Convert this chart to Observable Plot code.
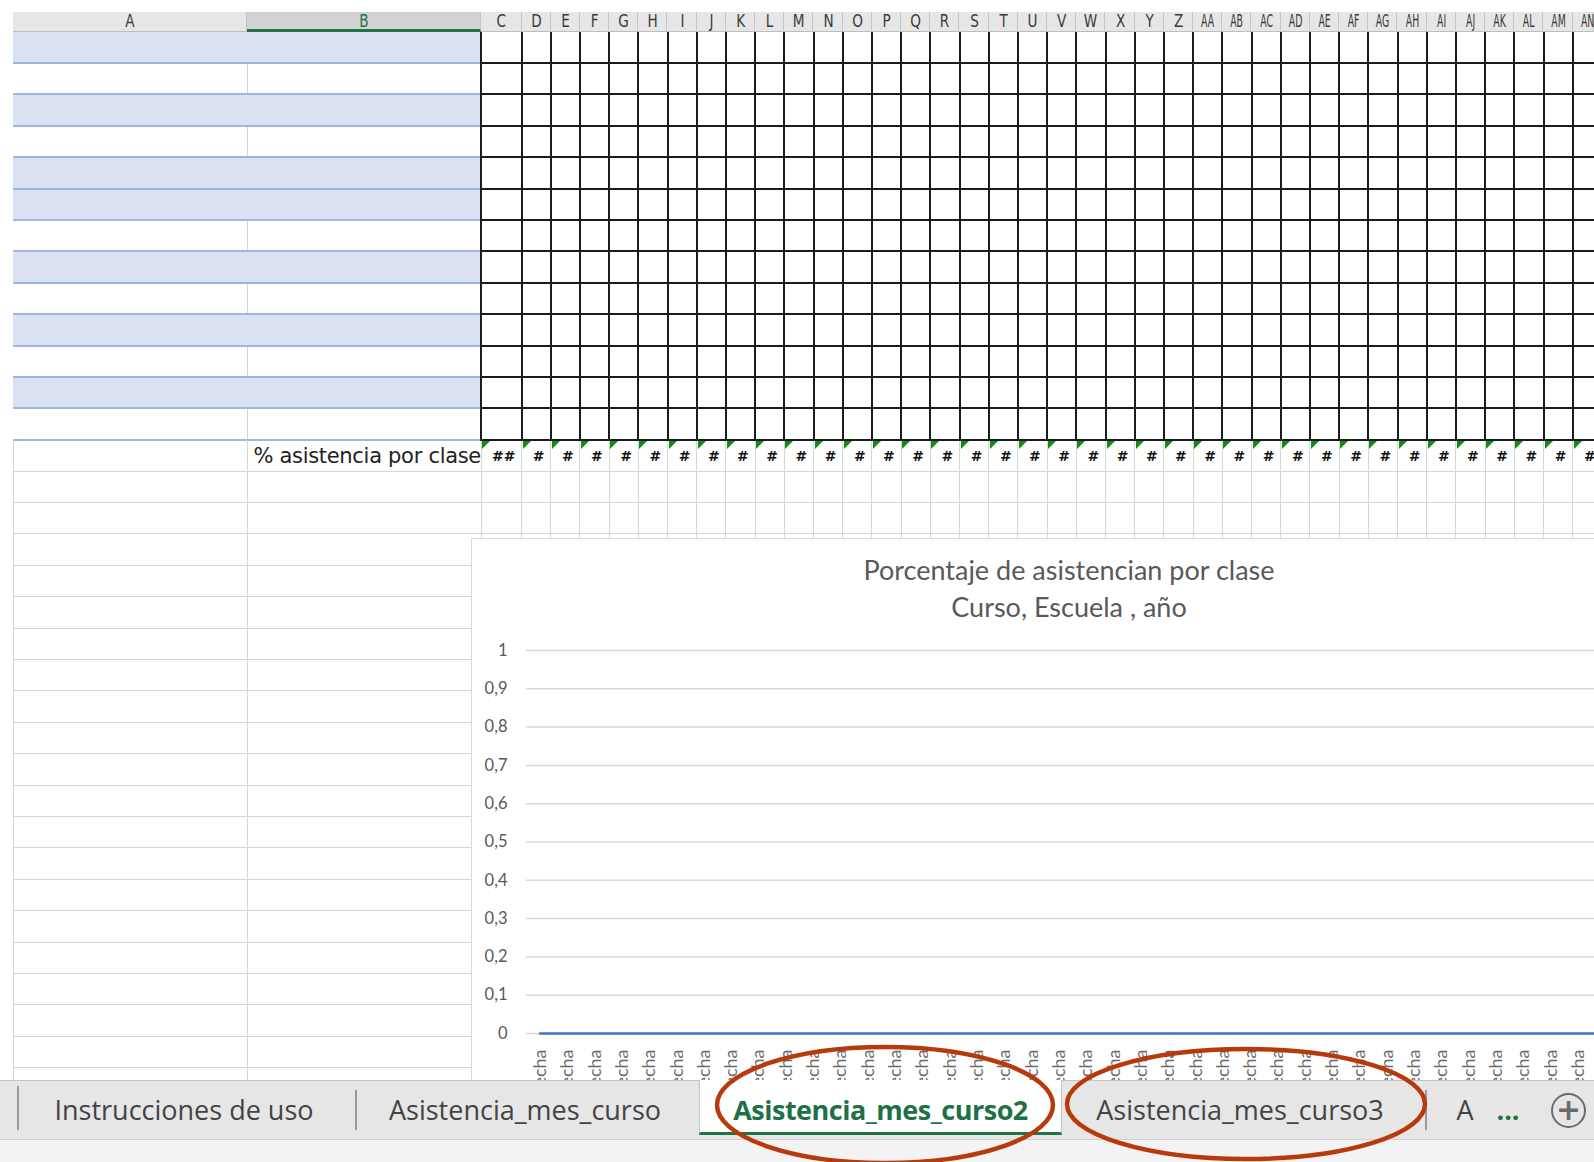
<!DOCTYPE html>
<html><head><meta charset="utf-8">
<script src="https://cdn.jsdelivr.net/npm/d3@7"></script>
<script src="https://cdn.jsdelivr.net/npm/@observablehq/plot@0.6"></script>
<style>
html,body{margin:0;padding:0;background:#fff;}
#page{position:relative;width:1594px;height:1162px;overflow:hidden;background:#fff;font-family:"Open Sans",sans-serif;}
#page div{position:absolute;box-sizing:border-box;}
</style></head><body><div id="page"></div>
<script>
// ---- data ----
const clases = ["Fecha","Fecha","Fecha","Fecha","Fecha","Fecha","Fecha","Fecha","Fecha","Fecha",
  "Fecha","Fecha","Fecha","Fecha","Fecha","Fecha","Fecha","Fecha","Fecha","Fecha",
  "Fecha","Fecha","Fecha","Fecha","Fecha","Fecha","Fecha","Fecha","Fecha","Fecha",
  "Fecha","Fecha","Fecha","Fecha","Fecha","Fecha","Fecha","Fecha","Fecha","Fecha","Fecha"];
const asistencia = [0,0,0,0,0,0,0,0,0,0, 0,0,0,0,0,0,0,0,0,0, 0,0,0,0,0,0,0,0,0,0, 0,0,0,0,0,0,0,0,0,0,0];
const yTicks = [0,0.1,0.2,0.3,0.4,0.5,0.6,0.7,0.8,0.9,1];
const titulo = "Porcentaje de asistencian por clase";
const subtitulo = "Curso, Escuela , año";
const columnas = ["A","B","C","D","E","F","G","H","I","J","K","L","M","N","O","P","Q","R","S","T","U","V","W","X","Y","Z",
  "AA","AB","AC","AD","AE","AF","AG","AH","AI","AJ","AK","AL","AM","AN","AO"];
const etiquetaFila = "% asistencia por clase";
const celdasFila = ["##","#","#","#","#","#","#","#","#","#","#","#","#","#","#","#","#","#","#","#",
  "#","#","#","#","#","#","#","#","#","#","#","#","#","#","#","#","#","#"];
const pestanas = ["Instrucciones de uso","Asistencia_mes_curso","Asistencia_mes_curso2","Asistencia_mes_curso3","A"];
const filasSombreadas = [0,2,4,5,7,9,11];

// ---- helpers ----
const page = document.getElementById("page");
function box(css, text, parent = page) {
  const d = document.createElement("div");
  d.style.cssText = css;
  if (text != null) d.textContent = text;
  parent.appendChild(d);
  return d;
}
const ROW0 = 31.5, RH = 31.4;
const rowY = k => ROW0 + RH * k;
const colL = i => i === 0 ? 481 : 521.5 + 29.2 * (i - 1);   // i = 0 -> column C
const colW = i => i === 0 ? 40.5 : 29.2;

// ---- sheet: A/B area rows 1..13 ----
for (let k = 0; k < 13; k++) {
  if (filasSombreadas.includes(k)) box(`left:13px;top:${rowY(k)}px;width:468px;height:${RH}px;background:#d9e1f2;`);
  else box(`left:246.5px;top:${rowY(k)}px;width:1px;height:${RH}px;background:#d4d4d4;`);
}
for (let k = 1; k <= 13; k++) box(`left:13px;top:${rowY(k) - 1}px;width:468px;height:2px;background:#9fb5e2;`);
// lower grey rows
for (let k = 14; k < 34; k++) box(`left:13px;top:${rowY(k) - 0.5}px;width:1581px;height:1px;background:#d6d6d6;`);
box(`left:13px;top:${rowY(13)}px;width:1px;height:700px;background:#d6d6d6;`);
box(`left:246.5px;top:${rowY(13)}px;width:1px;height:700px;background:#d6d6d6;`);
for (let i = 0; i < celdasFila.length + 1; i++) box(`left:${colL(i) - 0.5}px;top:${rowY(13)}px;width:1px;height:120px;background:#d6d6d6;`);

// black bordered block C.. rows 1..13
for (let i = 0; i < celdasFila.length + 1; i++) box(`left:${colL(i) - 1}px;top:${ROW0}px;width:2px;height:${rowY(13) - ROW0 + 1}px;background:#1c1c1c;`);
for (let k = 1; k <= 13; k++) box(`left:480px;top:${rowY(k) - 1}px;width:1114px;height:2px;background:#1c1c1c;`);

// row 14 texts
box(`left:150px;top:${rowY(13)}px;width:331px;height:${RH}px;line-height:${RH + 2}px;text-align:right;font-family:'DejaVu Sans',sans-serif;font-size:21px;letter-spacing:-0.3px;color:#222;white-space:nowrap;`, etiquetaFila);
celdasFila.forEach((t, i) => {
  box(`left:${colL(i)}px;top:${rowY(13)}px;width:${colW(i)}px;height:${RH}px;line-height:${RH + 1}px;text-align:center;padding-left:5px;font-family:'DejaVu Sans',sans-serif;font-weight:bold;font-size:14px;color:#111;`, t);
  box(`left:${colL(i) + 1}px;top:${rowY(13) + 1}px;width:0;height:0;border-top:8px solid #138a13;border-right:8px solid transparent;`);
});

// ---- column header ----
const hdr = box(`left:13px;top:12px;width:1581px;height:19.5px;background:#e6e6e6;border-bottom:1px solid #bdbdbd;`);
columnas.forEach((c, j) => {
  let L, W;
  if (j === 0) { L = 13; W = 234; } else if (j === 1) { L = 247; W = 234; } else { L = colL(j - 2); W = colW(j - 2); }
  if (L > 1594) return;
  const sel = j === 1;
  const cell = box(`left:${L - 13}px;top:0;width:${Math.min(W, 1594 - L)}px;height:19.5px;border-right:1px solid #c4c4c4;${sel ? "background:#d2d2d2;border-bottom:3px solid #217346;" : ""}`, null, hdr);
  const s = c.length > 1 ? 0.55 : 0.8;
  box(`left:0;top:0;width:${W}px;text-align:center;font-family:'DejaVu Sans',sans-serif;font-size:17px;line-height:18px;color:${sel ? "#217346" : "#3a3a3a"};transform:scaleX(${s});`, c, cell);
});

// ---- chart ----
const chartBox = box(`left:472px;top:539px;width:1194px;height:700px;background:#fff;outline:1.5px solid #d9d9d9;`);
box(`left:0;top:14px;width:1194px;text-align:center;font-family:Lato,sans-serif;font-size:27px;line-height:34px;color:#595959;`, titulo, chartBox);
box(`left:0;top:51px;width:1194px;text-align:center;font-family:Lato,sans-serif;font-size:27px;line-height:34px;color:#595959;`, subtitulo, chartBox);

const idx = clases.map((_, i) => i);
const datos = asistencia.map((v, i) => ({i, v}));
const plot = Plot.plot({
  width: 1194, height: 483,
  marginLeft: 54, marginRight: 20, marginTop: 10, marginBottom: 90,
  style: {fontFamily: "Lato, sans-serif", fontSize: "16.5px", color: "#595959", background: "transparent", overflow: "visible"},
  x: {type: "point", domain: idx, padding: 0.5, round: false},
  y: {domain: [0, 1]},
  marks: [
    Plot.gridY(yTicks, {stroke: "#d9d9d9", strokeOpacity: 1, strokeWidth: 1.5}),
    Plot.axisY(yTicks, {tickSize: 0, tickPadding: 19, tickFormat: d => String(d).replace(".", ","), fill: "#595959", label: null}),
    Plot.axisX(idx, {tickSize: 0, tickPadding: 16, tickRotate: -90, tickFormat: i => clases[i], fill: "#6a6a6a", fontSize: 18, label: null}),
    Plot.lineY(datos, {x: "i", y: "v", stroke: "#4472c4", strokeWidth: 2.5})
  ]
});
plot.style.position = "absolute";
plot.style.left = "0px";
plot.style.top = "101px";
chartBox.appendChild(plot);

// ---- sheet tabs ----
box(`left:0;top:1080px;width:1594px;height:59px;background:#e6e6e6;border-top:1px solid #c3c3c3;`);
box(`left:0;top:1139px;width:1594px;height:23px;background:#f3f3f3;border-top:1px solid #d0d0d0;`);
box(`left:17px;top:1086px;width:1.5px;height:44px;background:#9a9a9a;`);
box(`left:355px;top:1090px;width:1.5px;height:40px;background:#9a9a9a;`);
box(`left:1425px;top:1090px;width:1.5px;height:40px;background:#9a9a9a;`);
box(`left:699px;top:1080px;width:363px;height:55px;background:#fff;border-left:1px solid #c3c3c3;border-right:1px solid #c3c3c3;border-bottom:3.5px solid #217346;`);
const tabCss = "top:1088px;height:44px;line-height:44px;text-align:center;white-space:nowrap;font-size:27px;";
box(`left:34px;width:300px;${tabCss}color:#444;`, pestanas[0]);
box(`left:375px;width:300px;${tabCss}color:#444;`, pestanas[1]);
box(`left:699px;width:363px;${tabCss}color:#1e7145;font-weight:bold;letter-spacing:-0.5px;`, pestanas[2]);
box(`left:1080px;width:320px;${tabCss}color:#444;`, pestanas[3]);
box(`left:1445px;width:40px;${tabCss}color:#444;`, pestanas[4]);
box(`left:1488px;width:40px;${tabCss}color:#217346;font-weight:bold;`, "...");
box(`left:1551px;top:1093px;width:35px;height:35px;border:2px solid #6b6b6b;border-radius:50%;text-align:center;line-height:30px;font-size:30px;font-weight:bold;color:#6b6b6b;font-family:'DejaVu Sans',sans-serif;`, "+");

// ---- annotation ellipses ----
const ns = "http://www.w3.org/2000/svg";
const ov = document.createElementNS(ns, "svg");
ov.setAttribute("width", 1594); ov.setAttribute("height", 1162);
ov.style.cssText = "position:absolute;left:0;top:0;pointer-events:none;";
[[885, 1105, 168, 58], [1246, 1104, 179, 55]].forEach(([cx, cy, rx, ry]) => {
  const e = document.createElementNS(ns, "ellipse");
  e.setAttribute("cx", cx); e.setAttribute("cy", cy); e.setAttribute("rx", rx); e.setAttribute("ry", ry);
  e.setAttribute("fill", "none"); e.setAttribute("stroke", "#b83a0c"); e.setAttribute("stroke-width", 4.5);
  ov.appendChild(e);
});
page.appendChild(ov);
</script></body></html>
